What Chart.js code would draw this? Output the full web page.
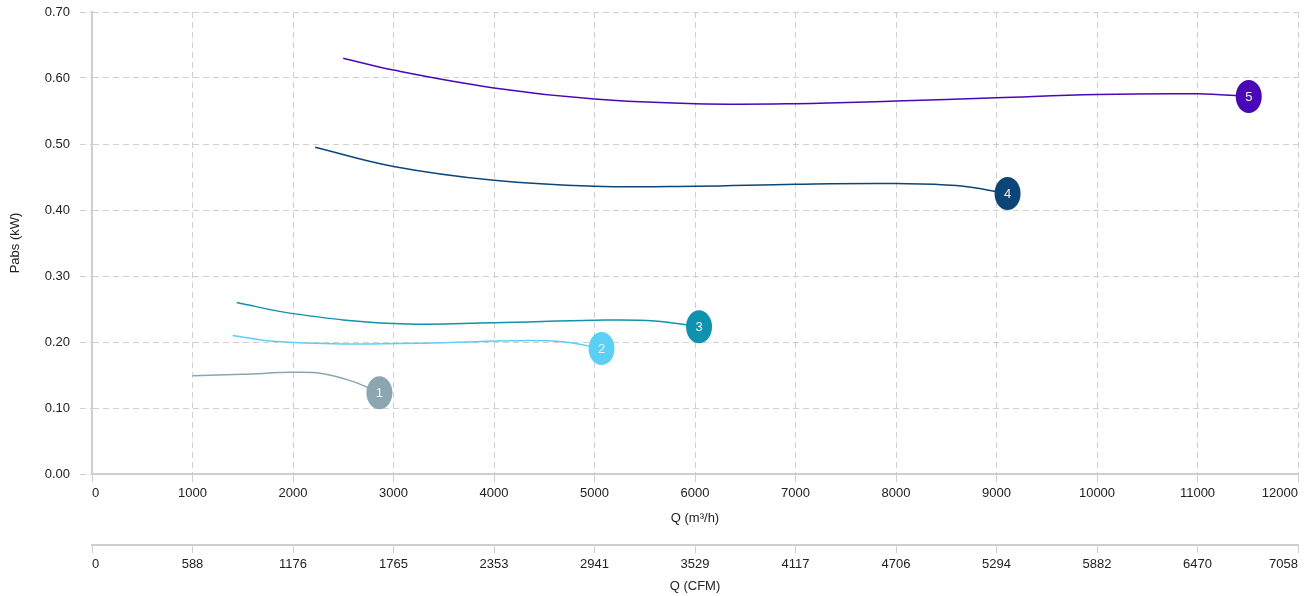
<!DOCTYPE html>
<html>
<head>
<meta charset="utf-8">
<script src="https://cdn.jsdelivr.net/npm/chart.js@4"></script>
<style>
  html, body { margin: 0; padding: 0; background: #fff; }
  #wrap { width: 1313px; height: 596px; }
</style>
</head>
<body>
<div id="wrap"><canvas id="myChart"></canvas></div>
<script>
const q1 = [1000, 1500, 2000, 2300, 2600, 2860];
const p1 = [0.149, 0.151, 0.154, 0.152, 0.140, 0.123];
const q2 = [1400, 1800, 2500, 3500, 4200, 4700, 5070];
const p2 = [0.210, 0.201, 0.197, 0.199, 0.202, 0.200, 0.190];
const q3 = [1440, 2000, 3000, 4000, 5000, 5600, 6040];
const p3 = [0.260, 0.243, 0.228, 0.229, 0.233, 0.232, 0.223];
const q4 = [2220, 3000, 4000, 5000, 6000, 7000, 8000, 8600, 9110];
const p4 = [0.495, 0.466, 0.445, 0.436, 0.436, 0.439, 0.440, 0.437, 0.425];
const q5 = [2500, 3000, 4000, 5000, 6000, 7000, 8000, 9000, 10000, 11000, 11510];
const p5 = [0.630, 0.612, 0.585, 0.568, 0.561, 0.561, 0.565, 0.570, 0.575, 0.576, 0.572];

const curveNames = ['1', '2', '3', '4', '5'];
const curveColors = ['#8aa7b1', '#5bd0f4', '#0f92ad', '#0c4677', '#4a07b8'];
const cfmLabels = ['0', '588', '1176', '1765', '2353', '2941', '3529', '4117', '4706', '5294', '5882', '6470', '7058'];

const toXY = (qs, ps) => qs.map((q, i) => ({ x: q, y: ps[i] }));
const series = [toXY(q1, p1), toXY(q2, p2), toXY(q3, p3), toXY(q4, p4), toXY(q5, p5)];

// numbered oval badge on the last point of each curve
const badges = {
  id: 'badges',
  afterDatasetsDraw(chart) {
    const c = chart.ctx;
    chart.data.datasets.forEach((ds, i) => {
      const pts = chart.getDatasetMeta(i).data;
      const p = pts[pts.length - 1];
      c.save();
      c.beginPath();
      c.ellipse(p.x, p.y, 13, 16.5, 0, 0, Math.PI * 2);
      c.fillStyle = ds.borderColor;
      c.fill();
      c.fillStyle = '#f4f4f4';
      c.font = '13px "Liberation Sans", Arial, sans-serif';
      c.textAlign = 'center';
      c.textBaseline = 'middle';
      c.fillText(ds.label, p.x, p.y + 1);
      c.restore();
    });
  }
};

const ctx = document.getElementById('myChart');
Chart.defaults.font.family = '"Liberation Sans", Arial, sans-serif';
Chart.defaults.font.size = 13;
Chart.defaults.color = '#222';

new Chart(ctx, {
  type: 'line',
  data: {
    datasets: series.map((d, i) => ({
      label: curveNames[i],
      data: d,
      borderColor: curveColors[i],
      backgroundColor: curveColors[i],
      borderWidth: 1.5,
      pointRadius: 0,
      tension: 0.4,
      fill: false
    }))
  },
  options: {
    responsive: true,
    maintainAspectRatio: false,
    animation: false,
    layout: { padding: { top: 0, right: 0, bottom: 2, left: 0 } },
    plugins: {
      legend: { display: false },
      tooltip: { enabled: false }
    },
    scales: {
      x: {
        type: 'linear',
        position: 'bottom',
        weight: 0,
        min: 0,
        max: 12000,
        afterFit: s => { s.height = 71; s.paddingRight = 15; },
        ticks: { stepSize: 1000, padding: 4, maxRotation: 0, align: 'inner', callback: v => String(v) },
        grid: { color: '#d0d0d0', tickLength: 8, tickBorderDash: [], tickColor: '#cfcfcf' },
        border: { display: true, color: '#cfcfcf', width: 2, dash: [6, 4] },
        title: { display: true, text: 'Q (m³/h)', padding: { top: 2, bottom: 19 } }
      },
      x2: {
        type: 'linear',
        position: 'bottom',
        weight: 1,
        min: 0,
        max: 12000,
        afterFit: s => { s.height = 49; s.paddingRight = 15; },
        ticks: { stepSize: 1000, padding: 4, maxRotation: 0, align: 'inner', callback: (v, i) => cfmLabels[i] },
        grid: { drawOnChartArea: false, color: '#cfcfcf', tickLength: 8 },
        border: { display: true, color: '#cfcfcf', width: 2 },
        title: { display: true, text: 'Q (CFM)', padding: { top: 2, bottom: 0 } }
      },
      y: {
        min: 0,
        max: 0.7,
        afterFit: s => { s.width = 92; s.paddingTop = 12; },
        ticks: { stepSize: 0.1, padding: 10, callback: v => v.toFixed(2) },
        grid: { color: '#d0d0d0', tickLength: 12, tickBorderDash: [6, 4] },
        border: { display: true, color: '#cfcfcf', width: 2, dash: [6, 4] },
        title: { display: true, text: 'Pabs (kW)', padding: { top: 8, bottom: 0 } }
      }
    }
  },
  plugins: [badges]
});
</script>
</body>
</html>
